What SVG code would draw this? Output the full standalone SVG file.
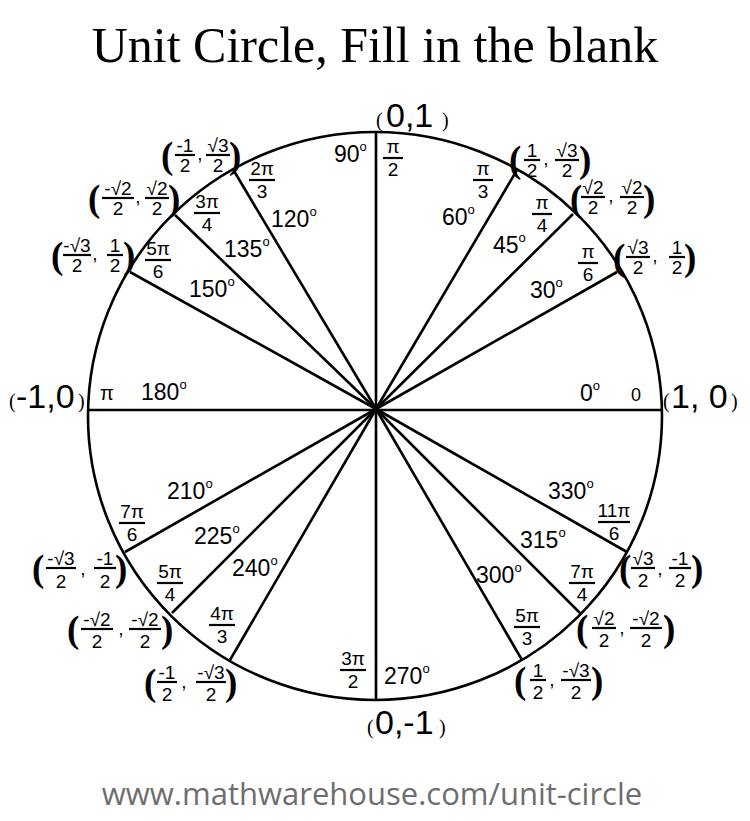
<svg xmlns="http://www.w3.org/2000/svg" width="750" height="821" viewBox="0 0 750 821">
<style>
text{font-family:"Liberation Sans",Arial,sans-serif;fill:#000}
.t{font-family:"Liberation Serif","Times New Roman",serif;font-size:50px}
.w{font-family:"Open Sans","DejaVu Sans",sans-serif;font-size:31px;fill:#6e6e6e}
.fr{font-size:19px;text-anchor:middle}
.rf{font-size:19px;text-anchor:middle}
.d{font-size:23px}
.s{font-size:13px}
.p{font-family:"Liberation Serif",serif;font-size:37px;font-weight:bold}
.ps{font-family:"Liberation Serif",serif;font-size:20px}
.b{font-size:34px}
.fl{stroke:#000;stroke-width:2.2}
.sp{stroke:#000;stroke-width:2.6;fill:none}
</style>
<rect width="750" height="821" fill="#fff"/>
<text class="t" x="375" y="62" text-anchor="middle">Unit Circle, Fill in the blank</text>
<g id="circle"><ellipse cx="375" cy="416" rx="287" ry="284" fill="none" stroke="#000" stroke-width="2.6"/></g>
<g id="connectors" class="sp">
<line x1="89" y1="410" x2="661" y2="410"/>
<line x1="376" y1="133" x2="376" y2="701"/>
<line x1="376" y1="409" x2="617" y2="272"/>
<line x1="376" y1="409" x2="573" y2="214"/>
<line x1="376" y1="409" x2="517" y2="170"/>
<line x1="376" y1="409" x2="234" y2="171"/>
<line x1="376" y1="409" x2="175" y2="215"/>
<line x1="376" y1="409" x2="130" y2="272"/>
<line x1="376" y1="409" x2="125" y2="552"/>
<line x1="376" y1="409" x2="172" y2="613"/>
<line x1="376" y1="409" x2="230" y2="660"/>
<line x1="376" y1="409" x2="522" y2="660"/>
<line x1="376" y1="409" x2="580" y2="613"/>
<line x1="376" y1="409" x2="627" y2="552"/>
</g>
<g id="axes-labels">
<text class="ps" x="376" y="127">(</text><text class="b" x="386" y="127">0,1</text><text class="ps" x="442" y="127">)</text>
<text class="ps" x="663" y="408">(</text><text class="b" x="671" y="408">1, 0</text><text class="ps" x="731" y="408">)</text>
<text class="ps" x="9" y="408">(</text><text class="b" x="16" y="408">-1,0</text><text class="ps" x="78" y="408">)</text>
<text class="ps" x="367" y="734">(</text><text class="b" x="375" y="734">0,-1</text><text class="ps" x="439" y="734">)</text>
</g>
<g id="degrees">
<text class="d" x="334" y="162">90<tspan class="s" dy="-11">o</tspan></text>
<text class="d" x="442" y="225">60<tspan class="s" dy="-11">o</tspan></text>
<text class="d" x="493" y="253">45<tspan class="s" dy="-11">o</tspan></text>
<text class="d" x="530" y="298">30<tspan class="s" dy="-11">o</tspan></text>
<text class="d" x="580" y="401">0<tspan class="s" dy="-11">o</tspan></text>
<text style="font-size:18px" x="631" y="401">0</text>
<text class="d" x="271" y="227">120<tspan class="s" dy="-11">o</tspan></text>
<text class="d" x="224" y="257">135<tspan class="s" dy="-11">o</tspan></text>
<text class="d" x="189" y="297">150<tspan class="s" dy="-11">o</tspan></text>
<text class="d" x="141" y="400">180<tspan class="s" dy="-11">o</tspan></text>
<text style="font-size:20px" x="100" y="400">π</text>
<text class="d" x="167" y="499">210<tspan class="s" dy="-11">o</tspan></text>
<text class="d" x="194" y="544">225<tspan class="s" dy="-11">o</tspan></text>
<text class="d" x="232" y="576">240<tspan class="s" dy="-11">o</tspan></text>
<text class="d" x="384" y="684">270<tspan class="s" dy="-11">o</tspan></text>
<text class="d" x="476" y="583">300<tspan class="s" dy="-11">o</tspan></text>
<text class="d" x="520" y="548">315<tspan class="s" dy="-11">o</tspan></text>
<text class="d" x="548" y="499">330<tspan class="s" dy="-11">o</tspan></text>
</g>
<g id="radians">
<text class="rf" x="393" y="153">π</text><line class="fl" x1="383" y1="158" x2="403" y2="158"/><text class="rf" x="393" y="176">2</text>
<text class="rf" x="483" y="175">π</text><line class="fl" x1="473" y1="180" x2="493" y2="180"/><text class="rf" x="483" y="198">3</text>
<text class="rf" x="542" y="209">π</text><line class="fl" x1="532" y1="214" x2="552" y2="214"/><text class="rf" x="542" y="232">4</text>
<text class="rf" x="588" y="258">π</text><line class="fl" x1="578" y1="263" x2="598" y2="263"/><text class="rf" x="588" y="281">6</text>
<text class="rf" x="262" y="175">2π</text><line class="fl" x1="249" y1="180" x2="275" y2="180"/><text class="rf" x="262" y="198">3</text>
<text class="rf" x="207" y="208">3π</text><line class="fl" x1="194" y1="213" x2="220" y2="213"/><text class="rf" x="207" y="231">4</text>
<text class="rf" x="158" y="255">5π</text><line class="fl" x1="145" y1="260" x2="171" y2="260"/><text class="rf" x="158" y="278">6</text>
<text class="rf" x="132" y="518">7π</text><line class="fl" x1="119" y1="523" x2="145" y2="523"/><text class="rf" x="132" y="541">6</text>
<text class="rf" x="170" y="578">5π</text><line class="fl" x1="157" y1="583" x2="183" y2="583"/><text class="rf" x="170" y="601">4</text>
<text class="rf" x="222" y="620">4π</text><line class="fl" x1="209" y1="625" x2="235" y2="625"/><text class="rf" x="222" y="643">3</text>
<text class="rf" x="353" y="665">3π</text><line class="fl" x1="340" y1="670" x2="366" y2="670"/><text class="rf" x="353" y="688">2</text>
<text class="rf" x="527" y="622">5π</text><line class="fl" x1="514" y1="627" x2="540" y2="627"/><text class="rf" x="527" y="645">3</text>
<text class="rf" x="582" y="578">7π</text><line class="fl" x1="569" y1="583" x2="595" y2="583"/><text class="rf" x="582" y="601">4</text>
<text class="rf" x="614" y="517">11π</text><line class="fl" x1="598" y1="522" x2="630" y2="522"/><text class="rf" x="614" y="540">6</text>
</g>
<g id="coord-q1">
<text class="p" x="509" y="172">(</text><text class="fr" x="532" y="157">1</text><line class="fl" x1="524" y1="160" x2="540" y2="160"/><text class="fr" x="532" y="177">2</text><text class="fr" x="546" y="165">,</text><text class="fr" x="567" y="157">√3</text><line class="fl" x1="555" y1="160" x2="579" y2="160"/><text class="fr" x="567" y="177">2</text><text class="p" x="579" y="172">)</text>
</g>
<g id="coord-q1b">
<text class="p" x="570" y="211">(</text><text class="fr" x="593" y="194">√2</text><line class="fl" x1="581" y1="197" x2="605" y2="197"/><text class="fr" x="593" y="214">2</text><text class="fr" x="611" y="202">,</text><text class="fr" x="632" y="194">√2</text><line class="fl" x1="620" y1="197" x2="644" y2="197"/><text class="fr" x="632" y="214">2</text><text class="p" x="643" y="211">)</text>
</g>
<g id="coord-q1c">
<text class="p" x="613" y="270">(</text><text class="fr" x="638" y="254">√3</text><line class="fl" x1="626" y1="257" x2="650" y2="257"/><text class="fr" x="638" y="274">2</text><text class="fr" x="655" y="262">,</text><text class="fr" x="677" y="254">1</text><line class="fl" x1="669" y1="257" x2="685" y2="257"/><text class="fr" x="677" y="274">2</text><text class="p" x="684" y="270">)</text>
</g>
<g id="coord-q2">
<text class="p" x="161" y="168">(</text><text class="fr" x="185" y="152">-1</text><line class="fl" x1="175" y1="155" x2="195" y2="155"/><text class="fr" x="185" y="172">2</text><text class="fr" x="200" y="160">,</text><text class="fr" x="218" y="152">√3</text><line class="fl" x1="206" y1="155" x2="230" y2="155"/><text class="fr" x="218" y="172">2</text><text class="p" x="229" y="168">)</text>
</g>
<g id="coord-q2b">
<text class="p" x="88" y="211">(</text><text class="fr" x="118" y="195">-√2</text><line class="fl" x1="102" y1="198" x2="134" y2="198"/><text class="fr" x="118" y="215">2</text><text class="fr" x="138" y="203">,</text><text class="fr" x="157" y="195">√2</text><line class="fl" x1="145" y1="198" x2="169" y2="198"/><text class="fr" x="157" y="215">2</text><text class="p" x="168" y="211">)</text>
</g>
<g id="coord-q2c">
<text class="p" x="51" y="268">(</text><text class="fr" x="77" y="252">-√3</text><line class="fl" x1="63" y1="255" x2="91" y2="255"/><text class="fr" x="77" y="272">2</text><text class="fr" x="95" y="260">,</text><text class="fr" x="115" y="252">1</text><line class="fl" x1="107" y1="255" x2="123" y2="255"/><text class="fr" x="115" y="272">2</text><text class="p" x="123" y="268">)</text>
</g>
<g id="coord-q3">
<text class="p" x="32" y="581">(</text><text class="fr" x="61" y="565">-√3</text><line class="fl" x1="46" y1="568" x2="76" y2="568"/><text class="fr" x="61" y="588">2</text><text class="fr" x="83" y="575">,</text><text class="fr" x="105" y="565">-1</text><line class="fl" x1="94" y1="568" x2="116" y2="568"/><text class="fr" x="105" y="588">2</text><text class="p" x="115" y="581">)</text>
</g>
<g id="coord-q3b">
<text class="p" x="67" y="642">(</text><text class="fr" x="97" y="626">-√2</text><line class="fl" x1="81" y1="629" x2="113" y2="629"/><text class="fr" x="97" y="648">2</text><text class="fr" x="121" y="635">,</text><text class="fr" x="145" y="626">-√2</text><line class="fl" x1="129" y1="629" x2="161" y2="629"/><text class="fr" x="145" y="648">2</text><text class="p" x="161" y="642">)</text>
</g>
<g id="coord-q3c">
<text class="p" x="144" y="695">(</text><text class="fr" x="167" y="679">-1</text><line class="fl" x1="157" y1="682" x2="177" y2="682"/><text class="fr" x="167" y="701">2</text><text class="fr" x="184" y="688">,</text><text class="fr" x="211" y="679">-√3</text><line class="fl" x1="196" y1="682" x2="226" y2="682"/><text class="fr" x="211" y="701">2</text><text class="p" x="225" y="695">)</text>
</g>
<g id="coord-q4">
<text class="p" x="514" y="693">(</text><text class="fr" x="538" y="677">1</text><line class="fl" x1="530" y1="680" x2="546" y2="680"/><text class="fr" x="538" y="699">2</text><text class="fr" x="552" y="686">,</text><text class="fr" x="576" y="677">-√3</text><line class="fl" x1="561" y1="680" x2="591" y2="680"/><text class="fr" x="576" y="699">2</text><text class="p" x="591" y="693">)</text>
</g>
<g id="coord-q4b">
<text class="p" x="576" y="641">(</text><text class="fr" x="604" y="625">√2</text><line class="fl" x1="592" y1="628" x2="616" y2="628"/><text class="fr" x="604" y="647">2</text><text class="fr" x="622" y="634">,</text><text class="fr" x="646" y="625">-√2</text><line class="fl" x1="630" y1="628" x2="662" y2="628"/><text class="fr" x="646" y="647">2</text><text class="p" x="663" y="641">)</text>
</g>
<g id="coord-q4c">
<text class="p" x="619" y="581">(</text><text class="fr" x="643" y="565">√3</text><line class="fl" x1="631" y1="568" x2="655" y2="568"/><text class="fr" x="643" y="587">2</text><text class="fr" x="660" y="575">,</text><text class="fr" x="680" y="565">-1</text><line class="fl" x1="669" y1="568" x2="691" y2="568"/><text class="fr" x="680" y="587">2</text><text class="p" x="691" y="581">)</text>
</g>
<text class="w" x="372" y="805" text-anchor="middle">www.mathwarehouse.com/unit-circle</text>
</svg>
